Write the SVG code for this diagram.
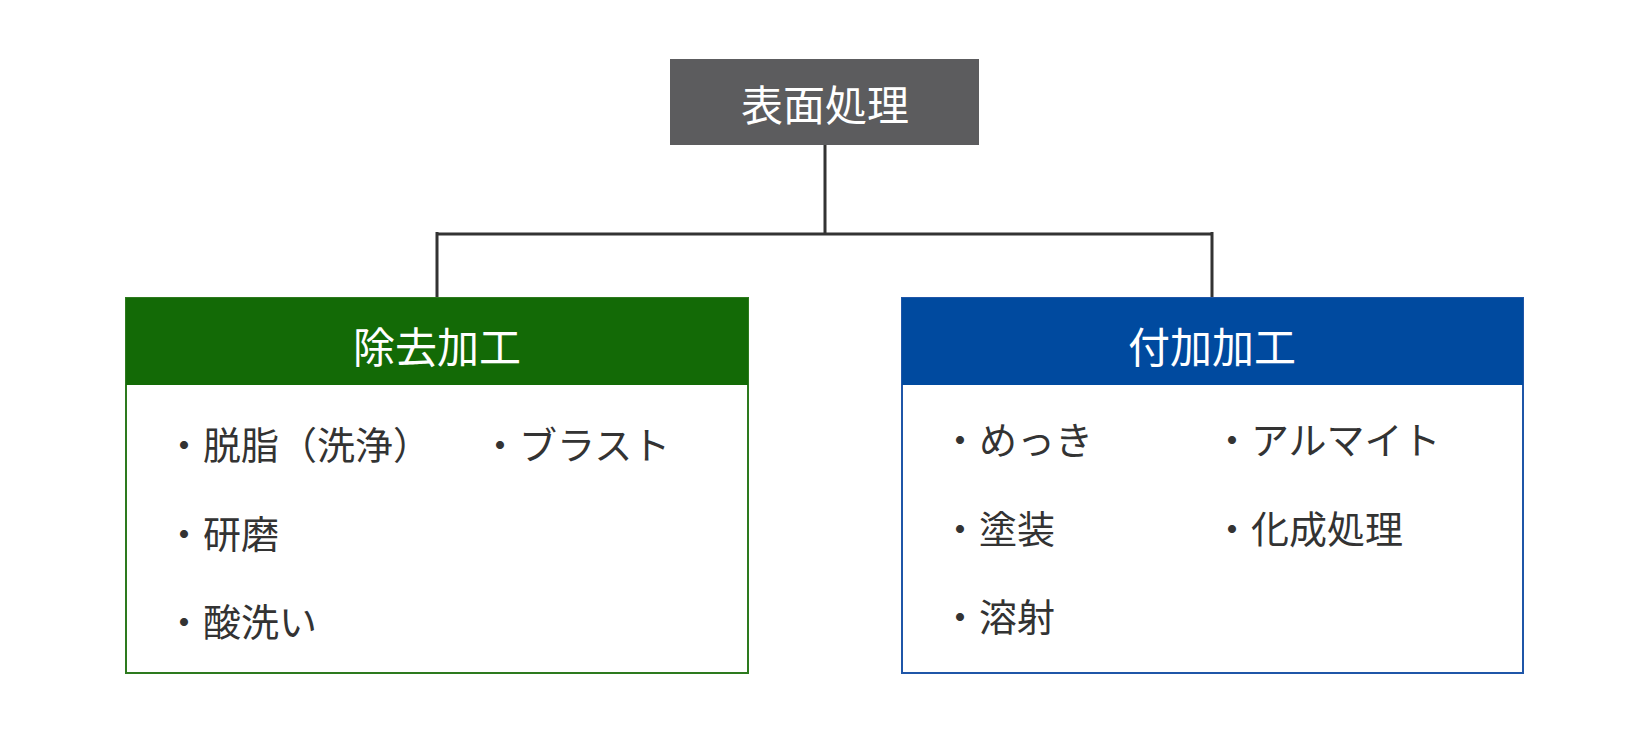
<svg xmlns="http://www.w3.org/2000/svg" width="1650" height="742" viewBox="0 0 1650 742">
<style>
text{font-family:"Noto Sans CJK JP","Noto Sans",sans-serif}
.h{fill:#fff;font-size:42px;text-anchor:middle;dominant-baseline:central}
.i{fill:#333;font-size:38px;dominant-baseline:central}
.c{fill:none;stroke:#333;stroke-width:3}
</style>
<rect width="1650" height="742" fill="#fff"/>
<g id="connectors">
<path class="c" d="M825 145V234M437 234H1212M437 232V298M1212 232V298"/>
</g>
<g id="root">
<rect x="670" y="59" width="309" height="86" fill="#5c5c5e"/>
<text class="h" x="825" y="102">表面処理</text>
</g>
<g id="removal">
<rect x="126" y="298" width="622" height="375" fill="#fff" stroke="#2d7a1e" stroke-width="2"/>
<rect x="126" y="298" width="622" height="87" fill="#136a06"/>
<text class="h" x="437" y="344">除去加工</text>
<text class="i" x="165" y="442">・脱脂（洗浄）</text>
<text class="i" x="481" y="442">・ブラスト</text>
<text class="i" x="165" y="531">・研磨</text>
<text class="i" x="165" y="619">・酸洗い</text>
</g>
<g id="addition">
<rect x="902" y="298" width="621" height="375" fill="#fff" stroke="#1f56a8" stroke-width="2"/>
<rect x="902" y="298" width="621" height="87" fill="#004a9f"/>
<text class="h" x="1212" y="344">付加加工</text>
<text class="i" x="941" y="437">・めっき</text>
<text class="i" x="1213" y="437">・アルマイト</text>
<text class="i" x="941" y="526">・塗装</text>
<text class="i" x="1213" y="526">・化成処理</text>
<text class="i" x="941" y="614">・溶射</text>
</g>
</svg>
